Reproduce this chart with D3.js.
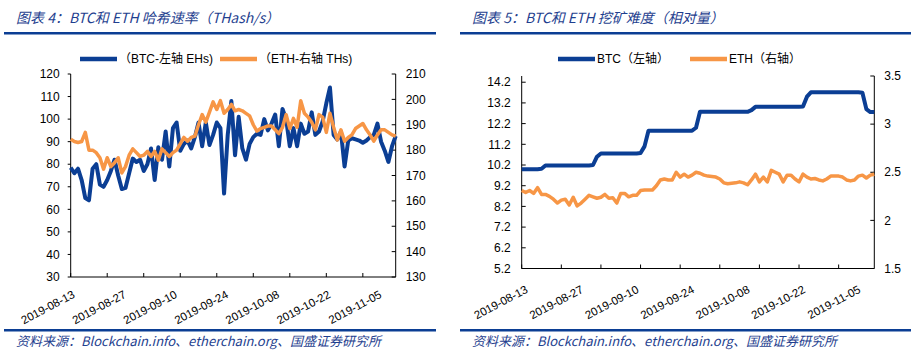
<!DOCTYPE html>
<html>
<head>
<meta charset="utf-8">
<script src="https://cdn.jsdelivr.net/npm/d3@7"></script>
<style>
  body { margin: 0; background: #fff; }
  svg { display: block; }
  text { font-family: "Liberation Sans", Arial, sans-serif; }
  .title, .source { font-family: "Noto Sans CJK SC", "Liberation Sans", sans-serif; font-style: italic; fill: #1f3f8f; }
  .legend { font-family: "Liberation Sans", "Noto Sans CJK SC", sans-serif; font-size: 12px; fill: #000; }
</style>
</head>
<body>
<svg id="chart" width="924" height="354"></svg>
<script>
// daily dates 2019-08-13 .. 2019-11-10
const dates = d3.timeDay.range(new Date(2019, 7, 13), new Date(2019, 10, 11));
const dateLabels = ["2019-08-13", "2019-08-27", "2019-09-10", "2019-09-24", "2019-10-08", "2019-10-22", "2019-11-05"];

// chart 4: hash rate
const btcHash = [78.5, 76, 78, 73, 65, 64, 78, 80, 71, 70,
  73, 77, 82, 75, 69, 69.5, 76, 82.5, 81, 82,
  77, 80, 87, 73, 87.5, 82, 94.5, 79, 96, 98.5,
  86, 89, 90.5, 87, 92, 98.5, 88, 98.5, 88.5, 93,
  98.5, 96, 67, 93, 108, 84, 101, 87, 82, 89,
  92, 93.5, 93, 100, 95, 98, 102, 88, 104.5, 100,
  88, 96, 88, 98, 93.5, 94.5, 103, 93, 94.5, 99,
  107, 114, 93, 91, 94.5, 79, 90.5, 91.5, 91, 90.5,
  89.5, 90.5, 92, 93, 98, 90, 86, 81, 88, 92.5];
const ethHash = [184.3, 183.4, 183, 183.4, 187, 180, 180, 179, 177, 172.5,
  177, 173.5, 175, 177, 171, 173.5, 178, 180.5, 179, 177.5,
  178, 179.5, 177.5, 179.5, 176, 180.5, 179, 177.5, 179, 180,
  182.5, 185, 183.5, 185, 185.5, 190, 194, 191, 195, 199,
  196, 199.5, 194.5, 196, 198, 195.5, 196, 195.5, 194.5, 193.5,
  190, 187.5, 188.5, 189, 189.5, 189.5, 188, 186.5, 189, 194,
  188.5, 192.5, 189, 199.5, 194.5, 193, 191, 188, 194, 193,
  187, 194.5, 189, 184, 188, 183.5, 185, 186, 188.5, 189.5,
  190.5, 188, 186, 183.5, 186, 188, 188, 187, 186, 185.5];
const hashLeftTicks = [30, 40, 50, 60, 70, 80, 90, 100, 110, 120];
const hashRightTicks = [130, 140, 150, 160, 170, 180, 190, 200, 210];

// chart 5: difficulty
const btcDiff = [10.0, 10.0, 10.0, 10.0, 10.0, 10.02, 10.18, 10.18, 10.18, 10.18,
  10.18, 10.18, 10.18, 10.18, 10.18, 10.18, 10.18, 10.18, 10.2, 10.6,
  10.76, 10.76, 10.76, 10.76, 10.76, 10.76, 10.76, 10.76, 10.76, 10.76,
  10.78, 11.1, 11.86, 11.86, 11.86, 11.86, 11.86, 11.86, 11.86, 11.86,
  11.86, 11.86, 11.86, 11.86, 12.0, 12.77, 12.77, 12.77, 12.77, 12.77,
  12.77, 12.77, 12.77, 12.77, 12.77, 12.77, 12.77, 12.77, 12.85, 13.01,
  13.01, 13.01, 13.01, 13.01, 13.01, 13.01, 13.01, 13.01, 13.01, 13.01,
  13.01, 13.03, 13.5, 13.71, 13.71, 13.71, 13.71, 13.71, 13.71, 13.71,
  13.71, 13.71, 13.71, 13.71, 13.71, 13.71, 13.69, 12.9, 12.76, 12.76];
const ethDiff = [2.31, 2.29, 2.31, 2.28, 2.34, 2.27, 2.27, 2.25, 2.22, 2.18,
  2.21, 2.22, 2.16, 2.24, 2.15, 2.18, 2.22, 2.26, 2.245, 2.23,
  2.24, 2.27, 2.23, 2.235, 2.18, 2.28, 2.28, 2.245, 2.26, 2.26,
  2.31, 2.315, 2.315, 2.315, 2.36, 2.42, 2.43, 2.42, 2.42, 2.50,
  2.45, 2.48, 2.45, 2.47, 2.50, 2.49, 2.47, 2.46, 2.455, 2.45,
  2.43, 2.39, 2.38, 2.385, 2.39, 2.40, 2.39, 2.37, 2.42, 2.48,
  2.40, 2.45, 2.40, 2.52, 2.50, 2.48, 2.40, 2.47, 2.47, 2.43,
  2.40, 2.48, 2.45, 2.43, 2.435, 2.42, 2.41, 2.43, 2.46, 2.46,
  2.46, 2.45, 2.42, 2.41, 2.42, 2.46, 2.47, 2.44, 2.47, 2.48];
const diffLeftTicks = [5.2, 6.2, 7.2, 8.2, 9.2, 10.2, 11.2, 12.2, 13.2, 14.2];
const diffRightTicks = [1.5, 2, 2.5, 3, 3.5];

const BLUE = "#0b3e94";
const ORANGE = "#f79646";
const svg = d3.select("#chart");

function drawPanel(o) {
  const g = svg.append("g");

  // title and rules
  g.append("text").attr("class", "title")
    .attr("x", o.x0 + 12).attr("y", 23)
    .style("font-size", "14px")
    .text(o.title);
  g.append("rect").attr("x", o.x0).attr("y", 32).attr("width", o.ruleW).attr("height", 2.5).attr("fill", "#0b3e94");
  g.append("rect").attr("x", o.x0).attr("y", 329).attr("width", o.ruleW).attr("height", 2.5).attr("fill", "#0b3e94");
  g.append("text").attr("class", "source")
    .attr("x", o.x0 + 12).attr("y", 346)
    .style("font-size", "13px")
    .text("资料来源：Blockchain.info、etherchain.org、国盛证券研究所");

  const x = d3.scaleTime().domain([dates[0], dates[dates.length - 1]]).range([o.left, o.right]);
  const yL = d3.scaleLinear().domain(o.leftDomain).range([o.bottom, o.top]);
  const yR = d3.scaleLinear().domain(o.rightDomain).range([o.bottom, o.top]);

  // left axis
  g.append("line").attr("x1", o.left).attr("x2", o.left).attr("y1", o.top).attr("y2", o.bottom).attr("stroke", "#000");
  g.selectAll(".lt").data(o.leftTicks).join("line")
    .attr("x1", o.left + o.leftTickDir).attr("x2", o.left)
    .attr("y1", d => yL(d)).attr("y2", d => yL(d)).attr("stroke", "#000");
  g.selectAll(".ll").data(o.leftTicks).join("text")
    .attr("x", o.left - 11).attr("y", d => yL(d)).attr("dy", "0.35em")
    .attr("text-anchor", "end").style("font-size", "12px")
    .text(o.leftFmt);

  // right axis
  g.append("line").attr("x1", o.right).attr("x2", o.right).attr("y1", o.top).attr("y2", o.bottom).attr("stroke", "#000");
  g.selectAll(".rt").data(o.rightTicks).join("line")
    .attr("x1", o.right - 4).attr("x2", o.right)
    .attr("y1", d => yR(d)).attr("y2", d => yR(d)).attr("stroke", "#000");
  g.selectAll(".rl").data(o.rightTicks).join("text")
    .attr("x", o.right + 10).attr("y", d => yR(d)).attr("dy", "0.35em")
    .style("font-size", "12px")
    .text(d => d);

  // bottom axis
  g.append("line").attr("x1", o.left).attr("x2", o.right).attr("y1", o.bottom).attr("y2", o.bottom).attr("stroke", "#000");
  const tickDates = dates.filter((d, i) => i % 10 === 0);
  g.selectAll(".xt").data(tickDates).join("line")
    .attr("x1", d => x(d)).attr("x2", d => x(d))
    .attr("y1", o.bottom - 4).attr("y2", o.bottom).attr("stroke", "#000");
  const parse = d3.timeParse("%Y-%m-%d");
  g.selectAll(".xl").data(dateLabels).join("text")
    .attr("transform", d => `translate(${x(parse(d)) + o.labDx},${o.bottom + o.labDy}) rotate(-28)`)
    .attr("text-anchor", "end").style("font-size", "11.5px")
    .text(d => d);

  // lines
  const lineL = d3.line().x((d, i) => x(dates[i])).y(d => yL(d));
  const lineR = d3.line().x((d, i) => x(dates[i])).y(d => yR(d));
  g.append("path").datum(o.leftData).attr("d", lineL)
    .attr("fill", "none").attr("stroke", BLUE).attr("stroke-width", 4).attr("stroke-linejoin", "round");
  g.append("path").datum(o.rightData).attr("d", lineR)
    .attr("fill", "none").attr("stroke", ORANGE).attr("stroke-width", 3.5).attr("stroke-linejoin", "round");

  // legend
  o.legend.forEach(l => {
    g.append("line").attr("x1", l.x).attr("x2", l.x + 37).attr("y1", 59).attr("y2", 59)
      .attr("stroke", l.color).attr("stroke-width", 4.5);
    g.append("text").attr("class", "legend").attr("x", l.x + 39).attr("y", 59).attr("dy", "0.35em").text(l.label);
  });
}

drawPanel({
  x0: 4, ruleW: 432,
  title: "图表 4：BTC和 ETH 哈希速率（THash/s）",
  left: 70.7, right: 395.7, top: 74, bottom: 277,
  leftDomain: [30, 120], rightDomain: [130, 210],
  leftTicks: hashLeftTicks, rightTicks: hashRightTicks,
  leftTickDir: -3, leftFmt: d => d,
  labDx: 5, labDy: 20,
  leftData: btcHash, rightData: ethHash,
  legend: [
    { x: 80, color: BLUE, label: "（BTC-左轴 EHs)" },
    { x: 220, color: ORANGE, label: "（ETH-右轴 THs)" }
  ]
});

drawPanel({
  x0: 460, ruleW: 451,
  title: "图表 5：BTC和 ETH 挖矿难度（相对量）",
  left: 521.7, right: 874.3, top: 76, bottom: 268.5,
  leftDomain: [5.2, 14.5], rightDomain: [1.5, 3.5],
  leftTicks: diffLeftTicks, rightTicks: diffRightTicks,
  leftTickDir: 4, leftFmt: d => d.toFixed(1),
  labDx: 7, labDy: 23.5,
  leftData: btcDiff, rightData: ethDiff,
  legend: [
    { x: 558, color: BLUE, label: "BTC（左轴）" },
    { x: 690, color: ORANGE, label: "ETH（右轴）" }
  ]
});
</script>
</body>
</html>
